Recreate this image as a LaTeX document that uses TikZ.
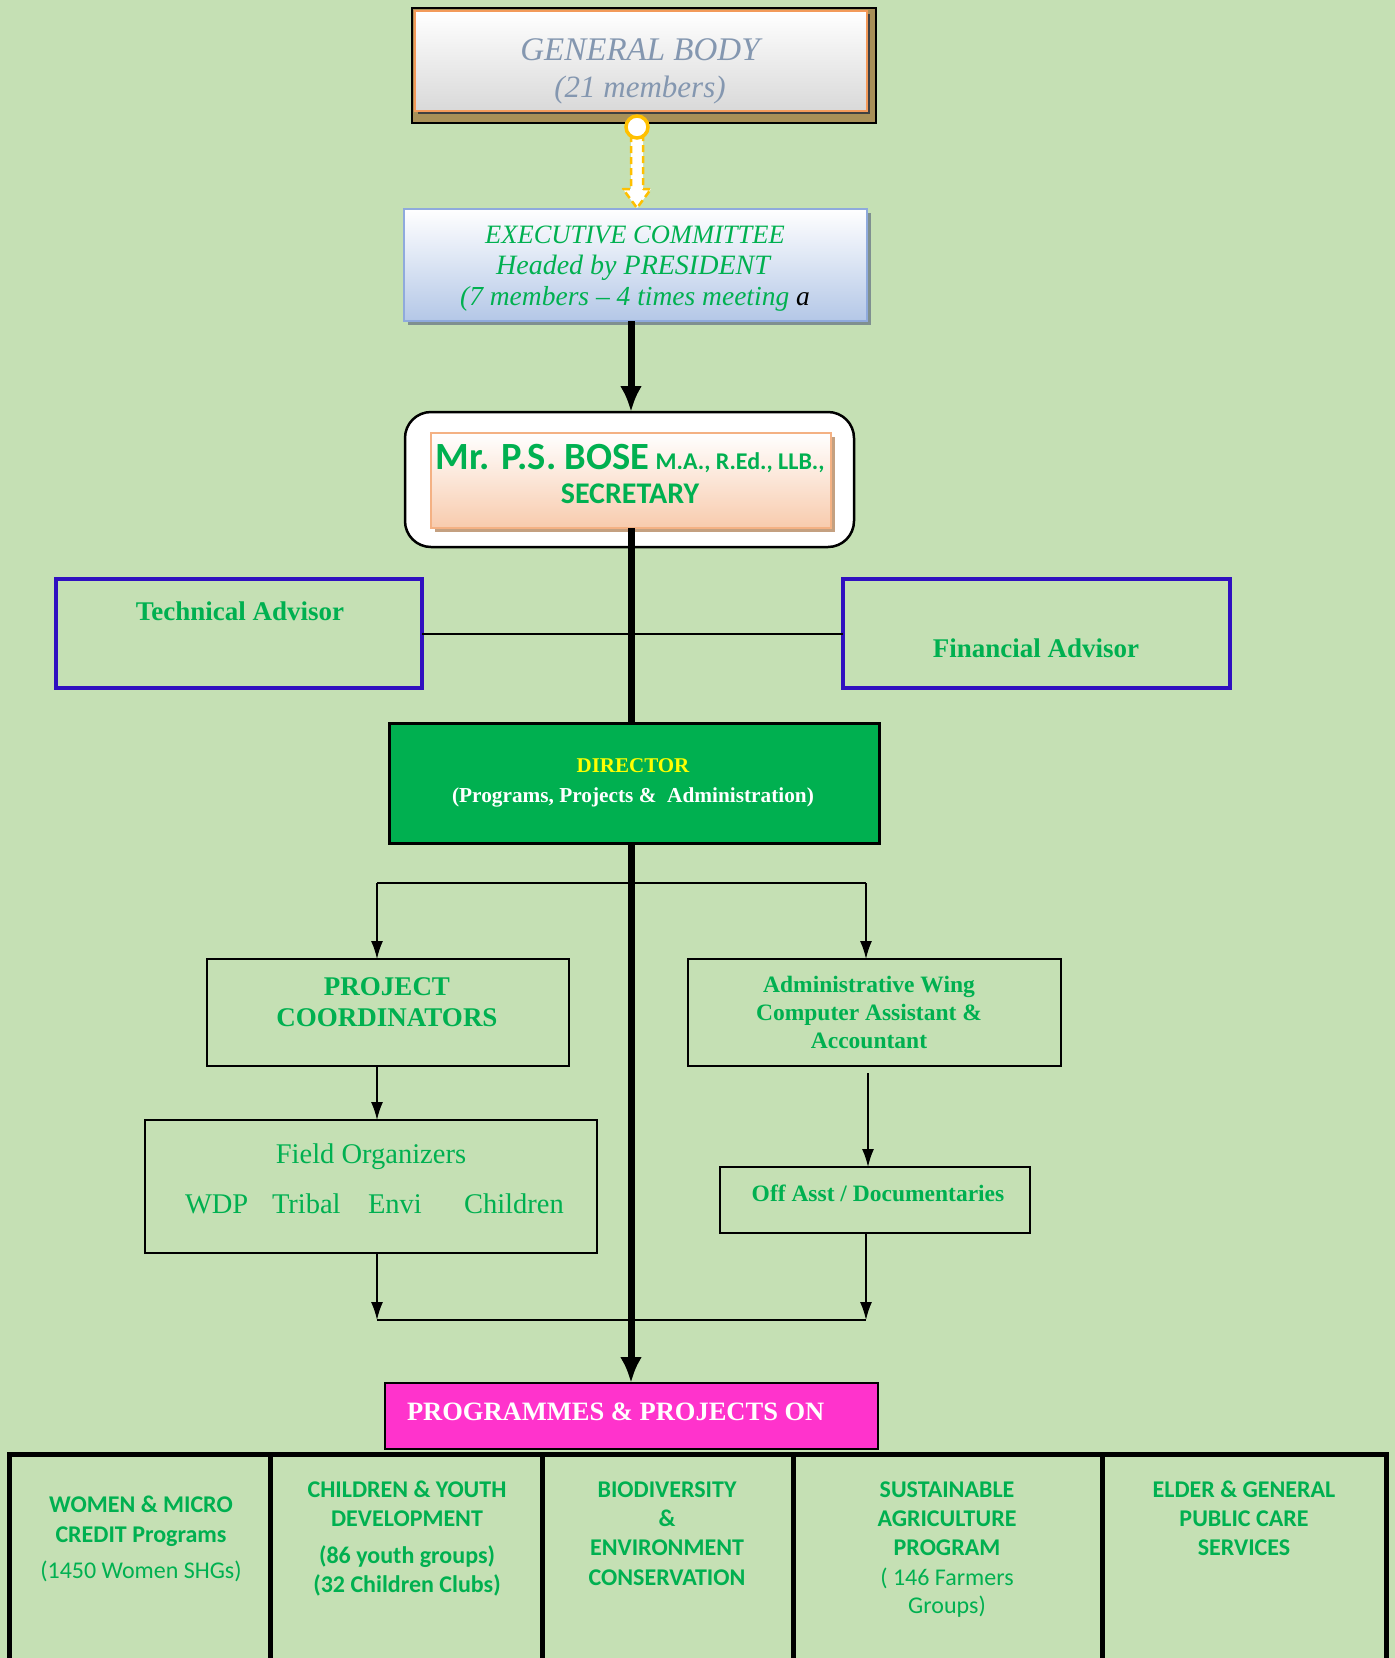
\documentclass[tikz,border=0pt]{standalone}
\usepackage{fontspec}
\setmainfont{Liberation Serif}
\newfontfamily\carl{Carlito}
\usetikzlibrary{arrows.meta,shadows,calc}
\definecolor{bg}{HTML}{C5E0B4}
\definecolor{gtxt}{HTML}{00B050}
\definecolor{advblue}{HTML}{3010C0}
\definecolor{magen}{HTML}{FF33CC}
\definecolor{gbtxt}{HTML}{8497B0}
\definecolor{gbtan}{HTML}{A89058}
\definecolor{gborange}{HTML}{F39A5A}
\definecolor{ecblue}{HTML}{B4C7E7}
\definecolor{ecborder}{HTML}{8FAADC}
\definecolor{ecshadow}{HTML}{7F9090}
\definecolor{peach}{HTML}{F8CBAD}
\definecolor{peachb}{HTML}{F4B183}
\definecolor{secshadow}{HTML}{C4A080}
\definecolor{ylw}{HTML}{FFC000}
\definecolor{dyellow}{HTML}{FFFF00}
\newcommand{\myfs}[1]{\fontsize{#1}{#1}\selectfont}
\begin{document}
\begin{tikzpicture}[x=1pt,y=-1pt,
  box/.style={rectangle, inner sep=0pt, outer sep=0pt},
  lbl/.style={anchor=base, inner sep=0pt, outer sep=0pt, text=gtxt},
  ctxt/.style={lbl, font=\carl\bfseries\myfs{24}},
  ctxr/.style={lbl, font=\carl\myfs{24}},
  thinline/.style={line width=2pt},
  tarrow/.style={line width=1.6pt, -{Latex[length=18pt,width=12pt]}},
  bigline/.style={line width=7pt},
  bigarrow/.style={line width=7pt, -{Latex[length=26pt,width=22pt]}},
  col/.style={box, draw=black, line width=5pt, minimum height=208pt}
]
\useasboundingbox[fill=bg] (0,0) rectangle (1395,1658);

% ---------- General body ----------
\node[box, fill=gbtan, draw=black, line width=1.5pt, minimum width=464pt, minimum height=115pt] (gbback) at (644,65.5) {};
\node[box, top color=white, bottom color=gray!30, draw=gborange, line width=2.5pt,
      minimum width=452pt, minimum height=100pt,
      drop shadow={shadow xshift=3pt, shadow yshift=-3pt, fill=black!75, opacity=1}] (gb) at (641,61) {};
\node[lbl, text=gbtxt, font=\itshape\myfs{33}] (gbt1) at (640,60) {GENERAL BODY};
\node[lbl, text=gbtxt, font=\itshape\myfs{31}] (gbt2) at (640,97) {(21 members)};

% ---------- Executive committee ----------
\node[box, top color=white, bottom color=ecblue, draw=ecborder, line width=1.5pt,
      minimum width=463pt, minimum height=112pt,
      drop shadow={shadow xshift=4pt, shadow yshift=-4pt, fill=ecshadow, opacity=1}] (ec) at (635.5,265) {};
\node[lbl, font=\itshape\myfs{26.5}] (ect1) at (635,243) {EXECUTIVE COMMITTEE};
\node[lbl, font=\itshape\myfs{28}] (ect2) at (633,274) {Headed by PRESIDENT};
\node[lbl, font=\itshape\myfs{27.5}] (ect3) at (635,305) {(7 members -- 4 times meeting \textcolor{black}{a}};

% dashed yellow block arrow
\coordinate (gbd) at (637,127);
\coordinate (ectip) at (gbd |- ec.north);
\filldraw[draw=ylw, fill=white, line width=2.5pt, dash pattern=on 7pt off 4pt, line join=round]
  ($(gbd)+(-6,8)$) -- ($(gbd)+(6,8)$) -- ($(ectip)+(6,-20)$) -- ($(ectip)+(14,-20)$)
  -- ($(ectip)+(0,-1)$) -- ($(ectip)+(-14,-20)$) -- ($(ectip)+(-6,-20)$) -- cycle;
\node[circle, draw=ylw, fill=white, line width=3.5pt, minimum size=22pt, inner sep=0pt] (gbdot) at (gbd) {};

% ---------- Secretary ----------
\node[box, rounded corners=26pt, draw=black, line width=2.5pt, fill=white,
      minimum width=449pt, minimum height=135pt] (secout) at (629.5,479.5) {};
\node[box, top color=white, bottom color=peach, draw=peachb, line width=2pt,
      minimum width=400pt, minimum height=95pt,
      drop shadow={shadow xshift=4pt, shadow yshift=-4pt, fill=secshadow, opacity=1}] (sec) at (631,480.5) {};
\node[lbl, font=\carl\bfseries] (sect1) at (630,469) {{\myfs{38.5}Mr. P.S. BOSE}\hspace{6pt}{\myfs{24}M.A., R.Ed., LLB.,}};
\node[lbl, font=\carl\bfseries\myfs{30}] (sect2) at (630,503) {SECRETARY};

% ---------- Advisors ----------
\node[box, draw=advblue, line width=4.5pt, minimum width=366pt, minimum height=109pt] (ta) at (239,633.5) {};
\node[box, draw=advblue, line width=4.5pt, minimum width=387pt, minimum height=109pt] (fa) at (1036.5,633.5) {};
\node[lbl, font=\bfseries\myfs{27}] (tat) at (240,620) {Technical Advisor};
\node[lbl, font=\bfseries\myfs{27}] (fat) at (1036,657) {Financial Advisor};
\draw[thinline] (ta.east) -- (fa.west);

% ---------- Director ----------
\node[box, fill=gtxt, draw=black, line width=3pt, minimum width=490pt, minimum height=120pt] (dir) at (634,783) {};
\node[lbl, text=dyellow, font=\bfseries\myfs{21}] (dt1) at (633,772) {DIRECTOR};
\node[lbl, text=white, font=\bfseries\myfs{21.3}] (dt2) at (633,802) {(Programs, Projects \&\ \ Administration)};

% ---------- Programmes ----------
\node[box, fill=magen, draw=black, line width=2.5pt, minimum width=493pt, minimum height=66pt] (prog) at (631.5,1416) {};
\node[lbl, anchor=base west, text=white, font=\bfseries\myfs{26.5}] (progt) at (407,1420) {PROGRAMMES \& PROJECTS ON};

% ---------- central spine ----------
\draw[bigarrow] (sec.north |- ec.south) -- (secout.north -| sec.north);
\draw[bigline] (sec.south) -- (sec.south |- dir.north);
\draw[bigarrow] (dir.south -| sec.south) -- (prog.north -| sec.south);

% ---------- Project coordinators / Admin ----------
\node[box, draw=black, line width=2.5pt, minimum width=362pt, minimum height=107pt] (pc) at (388,1012.5) {};
\node[lbl, font=\bfseries\myfs{27}] (pct1) at (387,995) {PROJECT};
\node[lbl, font=\bfseries\myfs{27}] (pct2) at (387,1026) {COORDINATORS};

\node[box, draw=black, line width=2.5pt, minimum width=373pt, minimum height=107pt] (aw) at (874.5,1012.5) {};
\node[lbl, font=\bfseries\myfs{23.5}] (awt1) at (869,992) {Administrative Wing};
\node[lbl, font=\bfseries\myfs{23.5}] (awt2) at (869,1020) {Computer Assistant \&};
\node[lbl, font=\bfseries\myfs{23.5}] (awt3) at (869,1048) {Accountant};

\coordinate (brL) at (377,883);
\coordinate (brR) at (866,883);
\draw[thinline] (brL) -- (brR);
\draw[tarrow] (brL) -- (brL |- pc.north);
\draw[tarrow] (brR) -- (brR |- aw.north);

% ---------- Field organizers / Off Asst ----------
\node[box, draw=black, line width=1.8pt, minimum width=452pt, minimum height=133pt] (fo) at (371,1186.5) {};
\node[lbl, font=\myfs{28.5}] (fot) at (371,1163) {Field Organizers};
\node[lbl, anchor=base west, font=\myfs{28.5}] (fo1) at (185,1213) {WDP};
\node[lbl, anchor=base west, font=\myfs{28.5}] (fo2) at (272,1213) {Tribal};
\node[lbl, anchor=base west, font=\myfs{28.5}] (fo3) at (368,1213) {Envi};
\node[lbl, anchor=base west, font=\myfs{28.5}] (fo4) at (464,1213) {Children};

\node[box, draw=black, line width=2pt, minimum width=310pt, minimum height=66pt] (off) at (875,1200) {};
\node[lbl, font=\bfseries\myfs{23.5}] (offt) at (878,1201) {Off Asst / Documentaries};

\draw[tarrow] (brL |- pc.south) -- (brL |- fo.north);
\coordinate (awo) at (868,1073);
\draw[tarrow] (awo) -- (awo |- off.north);

\coordinate (mL) at (377,1320);
\coordinate (mR) at (866,1320);
\draw[tarrow] (mL |- fo.south) -- (mL);
\draw[tarrow] (mR |- off.south) -- (mR);
\draw[thinline] (mL) -- (mR);

% ---------- bottom table ----------
\node[col, minimum width=261pt] (col1) at (139.5,1558) {};
\node[col, minimum width=272pt] (col2) at (406,1558) {};
\node[col, minimum width=251pt] (col3) at (667.5,1558) {};
\node[col, minimum width=309pt] (col4) at (947.5,1558) {};
\node[col, minimum width=284pt] (col5) at (1244,1558) {};

\node[ctxt] (c1a) at (141,1512) {WOMEN \& MICRO};
\node[ctxt] (c1b) at (141,1542) {CREDIT Programs};
\node[ctxr] (c1c) at (141,1578) {(1450 Women SHGs)};

\node[ctxt] (c2a) at (407,1497) {CHILDREN \& YOUTH};
\node[ctxt] (c2b) at (407,1526) {DEVELOPMENT};
\node[ctxt] (c2c) at (407,1563) {(86 youth groups)};
\node[ctxt] (c2d) at (407,1592) {(32 Children Clubs)};

\node[ctxt] (c3a) at (667,1497) {BIODIVERSITY};
\node[ctxt] (c3b) at (667,1526) {\&};
\node[ctxt] (c3c) at (667,1555) {ENVIRONMENT};
\node[ctxt] (c3d) at (667,1585) {CONSERVATION};

\node[ctxt] (c4a) at (947,1497) {SUSTAINABLE};
\node[ctxt] (c4b) at (947,1526) {AGRICULTURE};
\node[ctxt] (c4c) at (947,1555) {PROGRAM};
\node[ctxr] (c4d) at (947,1585) {( 146 Farmers};
\node[ctxr] (c4e) at (947,1613) {Groups)};

\node[ctxt] (c5a) at (1244,1497) {ELDER \& GENERAL};
\node[ctxt] (c5b) at (1244,1526) {PUBLIC CARE};
\node[ctxt] (c5c) at (1244,1555) {SERVICES};
\end{tikzpicture}
\end{document}
